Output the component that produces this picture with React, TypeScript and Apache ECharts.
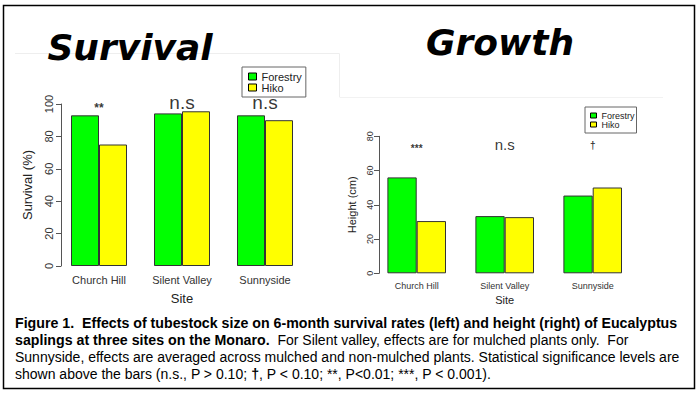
import React, { useEffect, useRef } from "react";
import * as echarts from "echarts";

const sites = ["Church Hill", "Silent Valley", "Sunnyside"];
const seriesNames = ["Forestry", "Hiko"];
const survivalForestry = [93, 94.2, 93];
const survivalHiko = [75, 95.5, 90];
const heightForestry = [56, 33.4, 45.4];
const heightHiko = [30.5, 32.8, 50.1];
const survivalSig = ["**", "n.s", "n.s"];
const heightSig = ["***", "n.s", "†"];
const survivalAxis = { min: 0, max: 100, interval: 20 };
const heightAxis = { min: 0, max: 80, interval: 20 };
const captionLines: { text: string; bold: boolean }[][] = [
  [{ text: "Figure 1.  Effects of tubestock size on 6-month survival rates (left) and height (right) of Eucalyptus", bold: true }],
  [
    { text: "saplings at three sites on the Monaro.", bold: true },
    { text: "  For Silent valley, effects are for mulched plants only.  For", bold: false },
  ],
  [{ text: "Sunnyside, effects are averaged across mulched and non-mulched plants. Statistical significance levels are", bold: false }],
  [
    { text: "shown above the bars (n.s., P > 0.10; ", bold: false },
    { text: "†", bold: true },
    { text: ", P < 0.10; **, P<0.01; ***, P < 0.001).", bold: false },
  ],
];

const GREEN = "#00ff00";
const YELLOW = "#ffff00";
const FONT = "Liberation Sans, Arial, sans-serif";

export default function App() {
  const ref = useRef<HTMLDivElement>(null);
  useEffect(() => {
    if (!ref.current) return;
    const chart = echarts.init(ref.current, undefined, { renderer: "svg" });
    const axisColor = "#555";
    const textColor = "#333";

    const sigData = (sig: string[], yv: number[], big: number, small: number) =>
      sig.map((t, i) => ({
        value: [sites[i], yv[i]],
        label: {
          show: true,
          position: "inside",
          formatter: t,
          fontSize: t === "n.s" ? big : small,
          color: "#000",
          textBorderWidth: 0,
          textBorderColor: "transparent",
          fontWeight: t === "n.s" ? "normal" : "bold",
        },
      }));

    const captionGraphics = captionLines.map((line, li) => {
      const rich: any = {};
      let txt = "";
      line.forEach((seg, si) => {
        const key = "s" + si;
        rich[key] = {
          fontFamily: FONT,
          fontSize: seg.bold ? 14.2 : 14,
          fontWeight: seg.bold ? "bold" : "normal",
          fill: "#000",
        };
        txt += "{" + key + "|" + seg.text + "}";
      });
      return {
        type: "text",
        left: 15,
        top: 316 + li * 17,
        style: { text: txt, rich, fill: "#000", font: "14px " + FONT },
      };
    });

    chart.setOption({
      animation: false,
      backgroundColor: "#fff",
      textStyle: { fontFamily: FONT },
      grid: [
        { left: 57.5, top: 104, width: 249, height: 162 },
        { left: 372.7, top: 136.3, width: 264, height: 137 },
      ],
      xAxis: [
        {
          type: "category",
          gridIndex: 0,
          data: sites,
          axisLine: { show: false },
          axisTick: { show: false },
          axisLabel: { color: textColor, fontSize: 11, margin: 8 },
          name: "Site",
          nameLocation: "middle",
          nameGap: 26,
          nameTextStyle: { color: "#222", fontSize: 13 },
        },
        {
          type: "category",
          gridIndex: 1,
          data: sites,
          axisLine: { show: false },
          axisTick: { show: false },
          axisLabel: { color: textColor, fontSize: 9, margin: 8 },
          name: "Site",
          nameLocation: "middle",
          nameGap: 21,
          nameTextStyle: { color: "#222", fontSize: 11 },
        },
      ],
      yAxis: [
        {
          type: "value",
          gridIndex: 0,
          ...survivalAxis,
          offset: -3.5,
          axisLine: { show: true, lineStyle: { color: axisColor } },
          axisTick: { show: true, length: 5, lineStyle: { color: axisColor } },
          splitLine: { show: false },
          axisLabel: { color: textColor, fontSize: 11, rotate: 90, margin: 7 },
          name: "Survival (%)",
          nameLocation: "middle",
          nameGap: 27,
          nameTextStyle: { color: "#222", fontSize: 13 },
        },
        {
          type: "value",
          gridIndex: 1,
          ...heightAxis,
          offset: -6.3,
          axisLine: { show: true, lineStyle: { color: axisColor } },
          axisTick: { show: true, length: 5, lineStyle: { color: axisColor } },
          splitLine: { show: false },
          axisLabel: { color: textColor, fontSize: 9, rotate: 90, margin: 5 },
          name: "Height (cm)",
          nameLocation: "middle",
          nameGap: 22,
          nameTextStyle: { color: "#222", fontSize: 11 },
        },
      ],
      legend: [
        {
          data: seriesNames,
          left: 242,
          top: 67,
          orient: "vertical",
          selectedMode: false,
          itemWidth: 8,
          itemHeight: 7,
          itemGap: 0,
          icon: "rect",
          padding: [4, 4, 4, 6],
          borderColor: "#666",
          borderWidth: 1,
          itemStyle: { borderColor: "#000", borderWidth: 1 },
          textStyle: { fontSize: 11, lineHeight: 10, color: "#222" },
        },
        {
          data: seriesNames,
          left: 585,
          top: 107,
          orient: "vertical",
          selectedMode: false,
          itemWidth: 6,
          itemHeight: 5,
          itemGap: 0,
          icon: "rect",
          padding: [4, 2, 4, 5],
          borderColor: "#666",
          borderWidth: 1,
          itemStyle: { borderColor: "#000", borderWidth: 1 },
          textStyle: { fontSize: 9, lineHeight: 8, color: "#222" },
        },
      ],
      series: [
        {
          name: seriesNames[0],
          type: "bar",
          xAxisIndex: 0,
          yAxisIndex: 0,
          data: survivalForestry,
          barWidth: 28,
          barGap: "0%",
          itemStyle: { color: GREEN, borderColor: "#333", borderWidth: 1 },
        },
        {
          name: seriesNames[1],
          type: "bar",
          xAxisIndex: 0,
          yAxisIndex: 0,
          data: survivalHiko,
          barWidth: 28,
          barGap: "0%",
          itemStyle: { color: YELLOW, borderColor: "#333", borderWidth: 1 },
        },
        {
          name: seriesNames[0],
          type: "bar",
          xAxisIndex: 1,
          yAxisIndex: 1,
          data: heightForestry,
          barWidth: 29.3,
          barGap: "0%",
          itemStyle: { color: GREEN, borderColor: "#333", borderWidth: 1 },
        },
        {
          name: seriesNames[1],
          type: "bar",
          xAxisIndex: 1,
          yAxisIndex: 1,
          data: heightHiko,
          barWidth: 29.3,
          barGap: "0%",
          itemStyle: { color: YELLOW, borderColor: "#333", borderWidth: 1 },
        },
        {
          name: "sigSurvival",
          type: "scatter",
          xAxisIndex: 0,
          yAxisIndex: 0,
          symbolSize: 0,
          clip: false,
          silent: true,
          itemStyle: { color: "#000" },
          label: { show: true, position: "inside", color: "#000", textBorderWidth: 0 },
          data: sigData(survivalSig, [97.7, 100.9, 100.9], 19, 12),
        },
        {
          name: "sigHeight",
          type: "scatter",
          xAxisIndex: 1,
          yAxisIndex: 1,
          symbolSize: 0,
          clip: false,
          silent: true,
          itemStyle: { color: "#000" },
          label: { show: true, position: "inside", color: "#000", textBorderWidth: 0 },
          data: sigData(heightSig, [73, 75.3, 74.7], 15, 10),
        },
      ],
      graphic: [
        {
          type: "rect",
          shape: { x: 3.5, y: 5.5, width: 691, height: 383 },
          style: { fill: "none", stroke: "#000", lineWidth: 1.5 },
          silent: true,
        },
        {
          type: "polyline",
          shape: { points: [[15, 53.5], [339.5, 53.5], [339.5, 97]] },
          style: { fill: "none", stroke: "#eeeeee", lineWidth: 1 },
          silent: true,
        },
        {
          type: "line",
          shape: { x1: 339.5, y1: 97.5, x2: 663, y2: 97.5 },
          style: { stroke: "#f2f2f2", lineWidth: 1 },
          silent: true,
        },
        {
          type: "text",
          x: 130,
          y: 47,
          style: {
            text: "Survival",
            font: "italic bold 36px 'DejaVu Sans'",
            fill: "#000",
            align: "center",
            verticalAlign: "middle",
          },
        },
        {
          type: "text",
          x: 500,
          y: 42,
          style: {
            text: "Growth",
            font: "italic bold 36px 'DejaVu Sans'",
            fill: "#000",
            align: "center",
            verticalAlign: "middle",
          },
        },
        ...captionGraphics,
      ],
    });
    return () => chart.dispose();
  }, []);
  return (
    <div
      ref={ref}
      style={{ position: "absolute", left: 0, top: 0, width: 700, height: 394, background: "#fff" }}
    />
  );
}
